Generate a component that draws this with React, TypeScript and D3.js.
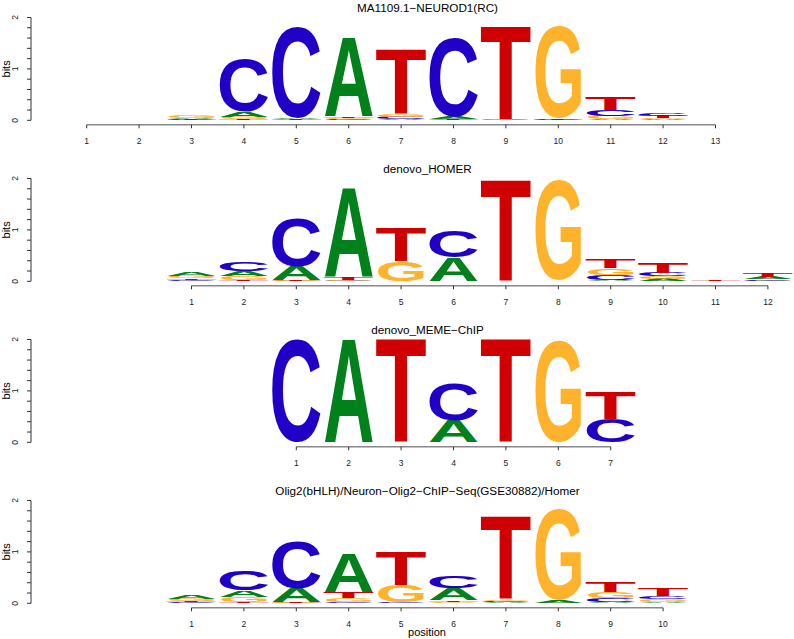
import { useMemo } from "react";
import * as d3 from "d3";

// bits per position, one array per base, for each motif
const neurodA = [0.003, 0.003, 0.015, 0.1, 0.02, 1.54, 0.02, 0.05, 0.005, 0.005, 0.02, 0.02, 0.003];
const neurodC = [0.003, 0.005, 0.01, 1.03, 1.78, 0.02, 0.04, 1.54, 0.01, 0.01, 0.12, 0.06, 0.003];
const neurodG = [0.003, 0.003, 0.035, 0.04, 0.01, 0.03, 0.06, 0.01, 0.01, 1.8, 0.07, 0.02, 0.003];
const neurodT = [0.004, 0.005, 0.01, 0.02, 0.01, 0.03, 1.25, 0.01, 1.81, 0.015, 0.25, 0.05, 0.005];

const homerA = [0.08, 0.1, 0.27, 1.72, 0.005, 0.45, 0.005, 0.005, 0.02, 0.05, 0.005, 0.05];
const homerC = [0.03, 0.17, 0.95, 0.01, 0.005, 0.52, 0.005, 0.005, 0.11, 0.07, 0.005, 0.03];
const homerG = [0.05, 0.08, 0.01, 0.02, 0.38, 0.003, 0.005, 1.94, 0.13, 0.05, 0.005, 0.01];
const homerT = [0.03, 0.02, 0.01, 0.04, 0.64, 0.003, 1.95, 0.005, 0.17, 0.19, 0.01, 0.08];

const memeA = [0, 2.0, 0, 0.42, 0, 0, 0];
const memeC = [2.0, 0, 0, 0.71, 0, 0, 0.46];
const memeG = [0, 0, 0, 0, 0, 1.98, 0];
const memeT = [0, 0, 2.0, 0, 2.0, 0, 0.52];

const olig2A = [0.06, 0.12, 0.27, 0.75, 0.005, 0.23, 0.02, 0.04, 0.03, 0.03];
const olig2C = [0.02, 0.38, 0.93, 0.02, 0.02, 0.24, 0.03, 0.005, 0.07, 0.06];
const olig2G = [0.04, 0.1, 0.01, 0.08, 0.33, 0.03, 0.03, 1.76, 0.12, 0.05];
const olig2T = [0.02, 0.03, 0.01, 0.12, 0.65, 0.03, 1.6, 0.005, 0.2, 0.15];

const titles = [
  "MA1109.1\u2212NEUROD1(RC)",
  "denovo_HOMER",
  "denovo_MEME\u2212ChIP",
  "Olig2(bHLH)/Neuron\u2212Olig2\u2212ChIP\u2212Seq(GSE30882)/Homer",
];
const offsets = [0, 2, 4, 2];
const bases = ["A", "C", "G", "T"];
const yTicks = d3.range(0, 2.0001, 0.2);
const yLabels = [0, 1, 2];

const motifs = [
  { A: neurodA, C: neurodC, G: neurodG, T: neurodT },
  { A: homerA, C: homerC, G: homerG, T: homerT },
  { A: memeA, C: memeC, G: memeG, T: memeT },
  { A: olig2A, C: olig2C, G: olig2G, T: olig2T },
];

const colors: Record<string, string> = { A: "#00811B", C: "#2000C7", G: "#FFB32C", T: "#D00001" };
const widthFrac: Record<string, number> = { A: 0.92, C: 0.92, G: 0.87, T: 0.955 };
const FONT = "'Liberation Sans', Arial, Helvetica, sans-serif";
const FS = 200;

const W = 794;
const H = 639;

function measureGlyphs() {
  const ctx = document.createElement("canvas").getContext("2d")!;
  ctx.font = `bold ${FS}px ${FONT}`;
  const out: Record<string, any> = {};
  bases.forEach(b => {
    const m = ctx.measureText(b);
    out[b] = {
      left: m.actualBoundingBoxLeft,
      right: m.actualBoundingBoxRight,
      ascent: m.actualBoundingBoxAscent,
      descent: m.actualBoundingBoxDescent,
    };
  });
  return out;
}

const App = () => {
  const glyphs = useMemo(measureGlyphs, []);

  // global column grid shared by all four logos
  const x = d3.scaleLinear().domain([0.5, 14.5]).range([60.5, 794.1]);
  const step = x(2) - x(1);

  const Letter = ({ b, cx, top, h }: { b: string; cx: number; top: number; h: number }) => {
    const g = glyphs[b];
    const w = step * widthFrac[b];
    const sx = w / (g.left + g.right);
    const sy = h / (g.ascent + g.descent);
    return (
      <text
        transform={`translate(${cx - w / 2},${top}) scale(${sx},${sy}) translate(${g.left},${g.ascent})`}
        fontFamily={FONT}
        fontWeight="bold"
        fontSize={FS}
        fill={colors[b]}
      >
        {b}
      </text>
    );
  };

  return (
    <svg width={W} height={H} style={{ position: "absolute", left: 0, top: 0, background: "#fff" }}>
      {motifs.map((m, i) => {
        const y0 = 120.3 + i * 161;
        const y = d3.scaleLinear().domain([0, 2]).range([y0, y0 - 102.8]);
        const n = m.A.length;
        const positions = d3.range(1, n + 1);
        return (
          <g key={i} fontFamily={FONT}>
            <text x={427.5} y={y0 - 108} textAnchor="middle" fontSize={11.7}>
              {titles[i]}
            </text>
            {/* y axis */}
            <line x1={31} x2={31} y1={y(0)} y2={y(2)} stroke="#333" strokeWidth={1} />
            {yTicks.map(t => (
              <line key={t} x1={27} x2={31} y1={y(t)} y2={y(t)} stroke="#333" strokeWidth={1} />
            ))}
            {yLabels.map(t => (
              <text
                key={t}
                transform={`translate(${18},${y(t)}) rotate(-90)`}
                textAnchor="middle"
                fontSize={8.5}
                fill="#222"
              >
                {t}
              </text>
            ))}
            <text transform={`translate(${10},${y(1)}) rotate(-90)`} textAnchor="middle" fontSize={11}>
              bits
            </text>
            {/* letters */}
            {positions.map((p, k) => {
              const cx = x(p + offsets[i]);
              const stack = bases
                .map(b => ({ b, v: (m as any)[b][k] as number }))
                .filter(d => d.v > 0)
                .sort((a, c) => a.v - c.v);
              let acc = 0;
              return (
                <g key={p}>
                  {stack.map(d => {
                    const bottom = y(acc);
                    acc += d.v;
                    const top = y(acc);
                    return <Letter key={d.b} b={d.b} cx={cx} top={top} h={bottom - top} />;
                  })}
                </g>
              );
            })}
            {/* x axis */}
            <line
              x1={x(1 + offsets[i])}
              x2={x(n + offsets[i])}
              y1={y0 + 4.5}
              y2={y0 + 4.5}
              stroke="#888"
              strokeWidth={1.6}
            />
            {positions.map(p => (
              <g key={p} transform={`translate(${x(p + offsets[i])},${y0 + 4.5})`}>
                <line y1={0} y2={3.5} stroke="#333" strokeWidth={1} />
                <text y={19} textAnchor="middle" fontSize={8.5} fill="#222">
                  {p}
                </text>
              </g>
            ))}
          </g>
        );
      })}
      <text x={427} y={636} textAnchor="middle" fontFamily={FONT} fontSize={11}>
        position
      </text>
    </svg>
  );
};

export default App;
